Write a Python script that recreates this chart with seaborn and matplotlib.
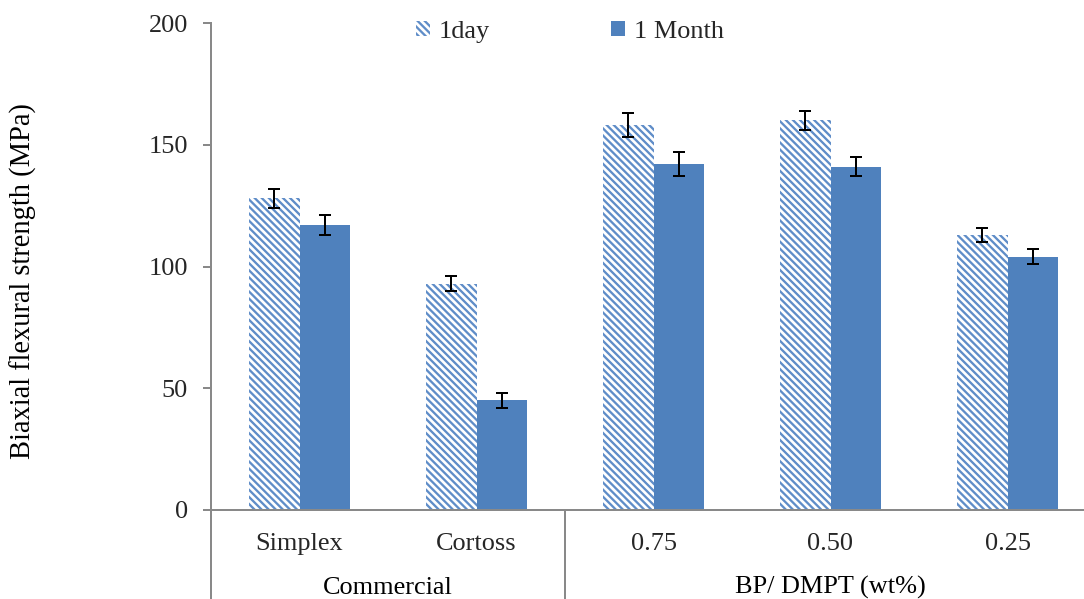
import matplotlib
matplotlib.use("Agg")
import matplotlib.pyplot as plt
from matplotlib.patches import Patch
from matplotlib.lines import Line2D
import matplotlib.transforms as mtransforms
import pandas as pd
import seaborn as sns

# Biaxial flexural strength per material, after 1 day and after 1 month
categories = ["Simplex", "Cortoss", "0.75", "0.50", "0.25"]
day1 = [128, 93, 158, 160, 113]
month1 = [117, 45, 142, 141, 104]
day1_err = [4, 3, 5, 4, 3]
month1_err = [4, 3, 5, 4, 3]
series_names = ["1day", "1 Month"]
group_names = ["Commercial", "BP/ DMPT (wt%)"]
group_members = [["Simplex", "Cortoss"], ["0.75", "0.50", "0.25"]]
yticks = [0, 50, 100, 150, 200]

DPI = 85
W, H = 1084, 599


def px(v):
    """pixels -> points at the figure dpi"""
    return v * 72.0 / DPI


BLUE = "#4F81BD"
HATCH_BLUE = "#5F8DC8"
AXIS_GREY = "#898989"
STRIPES = "\\" * 4

sns.set_theme(style="white")
plt.rcParams["font.family"] = ["Liberation Serif", "DejaVu Serif"]
plt.rcParams["hatch.linewidth"] = px(2.3)

df = pd.DataFrame({
    "category": categories * 2,
    "series": [series_names[0]] * len(categories) + [series_names[1]] * len(categories),
    "value": day1 + month1,
})

fig = plt.figure(figsize=(W / DPI, H / DPI), dpi=DPI)
ax = fig.add_axes([211 / W, (H - 510) / H, 885 / W, 487 / H])

sns.barplot(data=df, x="category", y="value", hue="series",
            order=categories, hue_order=series_names,
            palette=[BLUE, BLUE], width=0.57, gap=0, errorbar=None,
            legend=False, ax=ax, linewidth=0, saturation=1)

# 1-day bars: white with diagonal blue stripes
for bar in ax.containers[0]:
    bar.set_facecolor("white")
    bar.set_edgecolor(HATCH_BLUE)
    bar.set_hatch(STRIPES)
    bar.set_linewidth(0)

# error bars on top of each bar
for cont, vals, errs in zip(ax.containers, [day1, month1], [day1_err, month1_err]):
    xs = [b.get_x() + b.get_width() / 2 for b in cont]
    ax.errorbar(xs, vals, yerr=errs, fmt="none", ecolor="black",
                elinewidth=px(2), capsize=px(6), capthick=px(2), zorder=5)

ax.set_xlim(-0.5, len(categories) - 0.5)
ax.set_ylim(0, 200)
ax.set_yticks(yticks)
ax.set_yticklabels([str(t) for t in yticks])

for side in ["top", "right"]:
    ax.spines[side].set_visible(False)
for side in ["left", "bottom"]:
    ax.spines[side].set_color(AXIS_GREY)
    ax.spines[side].set_linewidth(px(2))

ax.tick_params(axis="y", direction="out", length=px(8), width=px(2),
               color=AXIS_GREY, pad=px(15), labelsize=px(26.3), left=True)
ax.tick_params(axis="x", length=0, pad=px(40), labelsize=px(26.3))
for lab in ax.get_xticklabels():
    lab.set_verticalalignment("baseline")

ax.set_xlabel("")
ax.set_ylabel("Biaxial flexural strength (MPa)", fontsize=px(28.5), color="black")
ax.yaxis.set_label_coords((37 - 211) / 885, (510 - 281) / 487)

# multi-level category axis: extended divider lines and group labels
below = -(H - 510) / 487 - 0.02
ax.add_line(Line2D([0, 0], [0, below], transform=ax.transAxes,
                   color=AXIS_GREY, linewidth=px(2), clip_on=False))
trans = mtransforms.blended_transform_factory(ax.transData, ax.transAxes)
boundary = len(group_members[0]) - 0.5
ax.add_line(Line2D([boundary, boundary], [0, below], transform=trans,
                   color=AXIS_GREY, linewidth=px(2), clip_on=False))
for name, members in zip(group_names, group_members):
    idx = [categories.index(m) for m in members]
    xc = (min(idx) + max(idx)) / 2
    ax.text(xc, -(594 - 510) / 487, name, transform=trans, ha="center",
            va="baseline", fontsize=px(26.3), color="black", clip_on=False)

handles = [
    Patch(facecolor="white", edgecolor=HATCH_BLUE, hatch=STRIPES, linewidth=0),
    Patch(facecolor=BLUE, linewidth=0),
]
fig.legend(handles, series_names, loc="center left",
           bbox_to_anchor=(416 / W, 1 - 32 / H), ncol=2, frameon=False,
           fontsize=px(26.3), handlelength=0.52, handleheight=0.52,
           handletextpad=0.35, columnspacing=4.6, borderpad=0, borderaxespad=0)

fig.savefig("out.png", dpi=DPI)
